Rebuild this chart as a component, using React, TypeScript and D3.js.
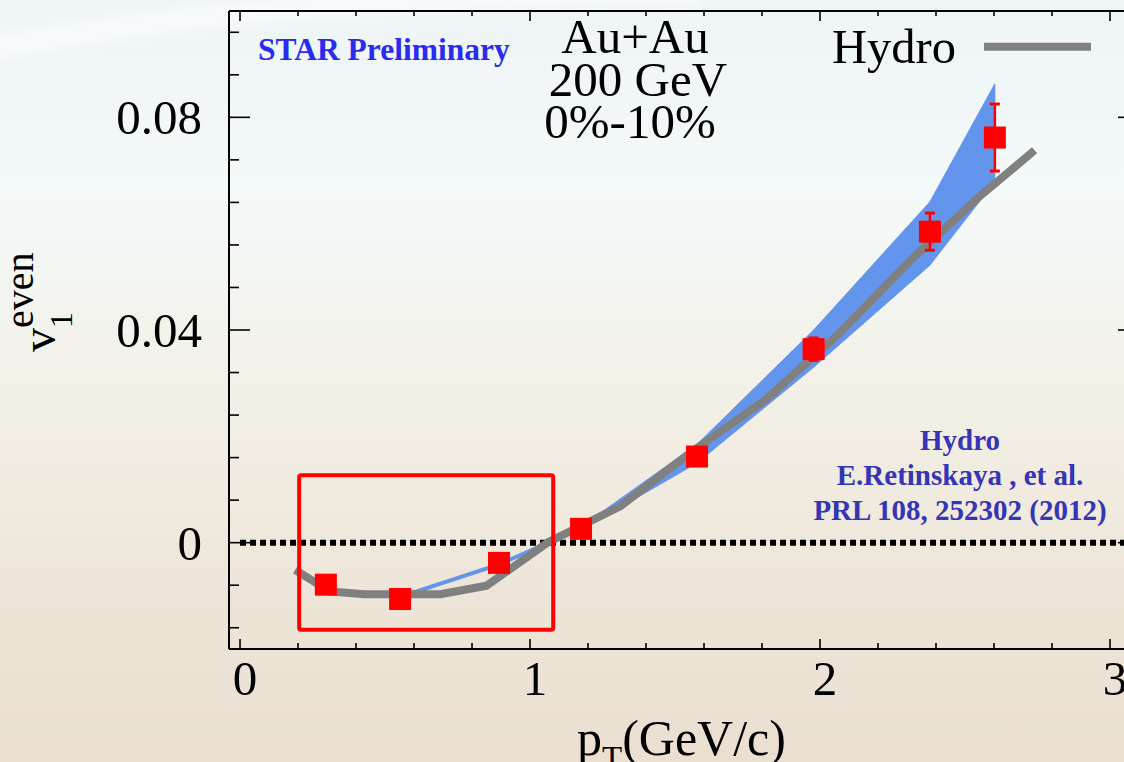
import React from "react";
import * as d3 from "d3";

// STAR v1^even vs pT, Au+Au 200 GeV, 0-10% centrality
const pT = [0.296, 0.552, 0.893, 1.176, 1.576, 1.978, 2.379, 2.603];
const v1Even = [-0.0079, -0.0106, -0.0038, 0.0026, 0.0162, 0.0364, 0.0585, 0.0762];
const v1Err = [0.0012, 0.0012, 0.0012, 0.0012, 0.0012, 0.0021, 0.0035, 0.0063];

// systematic band
const bandPt = [0.552, 0.893, 1.176, 1.576, 1.978, 2.379, 2.603];
const bandHi = [-0.0099, -0.0038, 0.003, 0.0185, 0.04, 0.0641, 0.0863];
const bandLo = [-0.0105, -0.0044, 0.0024, 0.015, 0.033, 0.0522, 0.0679];

// hydro calculation (Retinskaya et al.)
const hydroPt = [0.19, 0.31, 0.43, 0.69, 0.85, 1.06, 1.31, 1.56, 1.81, 2.06, 2.31, 2.55, 2.74];
const hydroV = [-0.0051, -0.0092, -0.0097, -0.0097, -0.0081, 0.0, 0.0068, 0.0172, 0.0268, 0.039, 0.053, 0.0651, 0.0738];

// highlighted low-pT region
const boxPt = [0.204, 1.08];
const boxV = [-0.0164, 0.0127];

const xMajor = [0, 1, 2, 3];
const yMajor = [0, 0.04, 0.08];
const yTickLabels = ["0", "0.04", "0.08"];

const W = 1124;
const H = 762;
const SERIF = "'Liberation Serif', 'Times New Roman', serif";

export default function App() {
  const x = d3.scaleLinear().domain([-0.038, 3.1]).range([229, 1139]);
  const y = d3.scaleLinear().domain([-0.02, 0.1]).range([649, 11]);

  const [x0, x1] = x.range();
  const [yb, yt] = y.range();

  const xMinor = d3.range(0, 3.1, 0.2).filter((t) => Math.abs(t - Math.round(t)) > 1e-6);
  const yMinor = d3.range(-0.016, 0.1, 0.008).filter(
    (t) => !yMajor.some((m) => Math.abs(m - t) < 1e-6)
  );

  const band = d3
    .area<number>()
    .x((i) => x(bandPt[i]))
    .y0((i) => y(bandLo[i]))
    .y1((i) => y(bandHi[i]))(d3.range(bandPt.length));

  const hydro = d3
    .line<number>()
    .x((i) => x(hydroPt[i]))
    .y((i) => y(hydroV[i]))(d3.range(hydroPt.length));

  const sq = 22;

  return (
    <div style={{ position: "fixed", left: 0, top: 0, width: W, height: H, overflow: "hidden" }}>
      <svg width={W} height={H} style={{ display: "block" }}>
        <defs>
          <linearGradient id="bg" x1="0" y1="0" x2="0" y2="1">
            <stop offset="0" stopColor="#eef5f7" />
            <stop offset="0.25" stopColor="#f4f9f9" />
            <stop offset="0.5" stopColor="#f3f1e8" />
            <stop offset="0.75" stopColor="#eee6da" />
            <stop offset="1" stopColor="#eadfd1" />
          </linearGradient>
          <filter id="soft" x="-10%" y="-50%" width="120%" height="200%">
            <feGaussianBlur stdDeviation="6" />
          </filter>
          <clipPath id="plot">
            <rect x={x0} y={yt} width={x1 - x0} height={yb - yt} />
          </clipPath>
        </defs>

        <rect x={0} y={0} width={W} height={H} fill="url(#bg)" />
        <path
          d="M -20 50 Q 300 -10 700 -5"
          fill="none"
          stroke="#ffffff"
          strokeWidth={22}
          opacity={0.55}
          filter="url(#soft)"
        />

        {/* zero reference line */}
        <line
          x1={x(0)}
          x2={x1}
          y1={y(0)}
          y2={y(0)}
          stroke="#000"
          strokeWidth={6}
          strokeDasharray="6 4"
        />

        <g clipPath="url(#plot)">
          <path d={band ?? ""} fill="#6495ed" stroke="#6495ed" strokeWidth={1} />
          <path
            d={hydro ?? ""}
            fill="none"
            stroke="#808080"
            strokeWidth={8}
            strokeLinejoin="round"
          />
        </g>

        {/* data: error bars then markers */}
        {pT.map((p, i) => {
          const cx = x(p);
          const lo = y(v1Even[i] - v1Err[i]);
          const hi = y(v1Even[i] + v1Err[i]);
          return (
            <g key={`e${i}`} stroke="#ff0000" strokeWidth={2.5}>
              <line x1={cx} x2={cx} y1={lo} y2={hi} />
              <line x1={cx - 5} x2={cx + 5} y1={hi} y2={hi} strokeWidth={3} />
              <line x1={cx - 5} x2={cx + 5} y1={lo} y2={lo} strokeWidth={3} />
            </g>
          );
        })}
        {pT.map((p, i) => (
          <rect
            key={`m${i}`}
            x={x(p) - sq / 2}
            y={y(v1Even[i]) - sq / 2}
            width={sq}
            height={sq}
            fill="#ff0000"
          />
        ))}

        {/* highlight box */}
        <rect
          x={x(boxPt[0])}
          y={y(boxV[1])}
          width={x(boxPt[1]) - x(boxPt[0])}
          height={y(boxV[0]) - y(boxV[1])}
          fill="none"
          stroke="#ff0000"
          strokeWidth={4}
          rx={2}
        />

        {/* frame (right edge lies outside the visible area) */}
        <g stroke="#000" strokeWidth={2} fill="none">
          <line x1={x0} x2={x0} y1={yt} y2={yb} />
          <line x1={x0} x2={x1} y1={yb} y2={yb} />
          <line x1={x0} x2={x1} y1={yt} y2={yt} />
        </g>

        {/* ticks */}
        <g stroke="#000" strokeWidth={1.6}>
          {xMajor.map((t) => (
            <g key={`xM${t}`}>
              <line x1={x(t)} x2={x(t)} y1={yb} y2={yb - 10} />
              <line x1={x(t)} x2={x(t)} y1={yt} y2={yt + 10} />
            </g>
          ))}
          {xMinor.map((t) => (
            <g key={`xm${t}`}>
              <line x1={x(t)} x2={x(t)} y1={yb} y2={yb - 6} />
              <line x1={x(t)} x2={x(t)} y1={yt} y2={yt + 5} />
            </g>
          ))}
          {yMajor.map((t) => (
            <g key={`yM${t}`}>
              <line x1={x0} x2={x0 + 21} y1={y(t)} y2={y(t)} />
              <line x1={x1} x2={x1 - 21} y1={y(t)} y2={y(t)} />
            </g>
          ))}
          {yMinor.map((t) => (
            <g key={`ym${t}`}>
              <line x1={x0} x2={x0 + 10} y1={y(t)} y2={y(t)} />
              <line x1={x1} x2={x1 - 10} y1={y(t)} y2={y(t)} />
            </g>
          ))}
        </g>

        {/* tick labels */}
        <g fontFamily={SERIF} fontSize={49} fill="#000">
          {xMajor.map((t) => (
            <text key={`xl${t}`} x={x(t) + 5} y={695} textAnchor="middle">
              {t}
            </text>
          ))}
          {yMajor.map((t, i) => (
            <text key={`yl${t}`} x={202} y={y(t) + 17} textAnchor="end">
              {yTickLabels[i]}
            </text>
          ))}
        </g>

        {/* axis titles */}
        <text x={577} y={755} fontFamily={SERIF} fontSize={50} fill="#000">
          p
          <tspan fontSize={33} dy={14}>
            T
          </tspan>
          <tspan dy={-14}>(GeV/c)</tspan>
        </text>
        <g transform="translate(55,352) rotate(-90)" fontFamily={SERIF} fill="#000">
          <text x={0} y={0} fontSize={48}>
            v
          </text>
          <text x={24} y={17} fontSize={32}>
            1
          </text>
          <text x={24} y={-22} fontSize={40}>
            even
          </text>
        </g>

        {/* annotations */}
        <text
          x={258}
          y={60}
          fontFamily={SERIF}
          fontWeight="bold"
          fontSize={31.5}
          fill="#2b2bef"
        >
          STAR Preliminary
        </text>
        <g fontFamily={SERIF} fontSize={49} fill="#000" textAnchor="middle">
          <text x={635} y={53}>Au+Au</text>
          <text x={638} y={96}>200 GeV</text>
          <text x={630} y={138}>0%-10%</text>
        </g>

        {/* legend */}
        <text x={832} y={63} fontFamily={SERIF} fontSize={48.5} fill="#000">
          Hydro
        </text>
        <line x1={984} x2={1091} y1={46.7} y2={46.7} stroke="#808080" strokeWidth={8} />

        <g
          fontFamily={SERIF}
          fontWeight="bold"
          fontSize={29}
          fill="#3535b5"
          textAnchor="middle"
        >
          <text x={960} y={450}>Hydro</text>
          <text x={960} y={485}>E.Retinskaya , et al.</text>
          <text x={960} y={520}>PRL 108, 252302 (2012)</text>
        </g>
      </svg>
    </div>
  );
}
